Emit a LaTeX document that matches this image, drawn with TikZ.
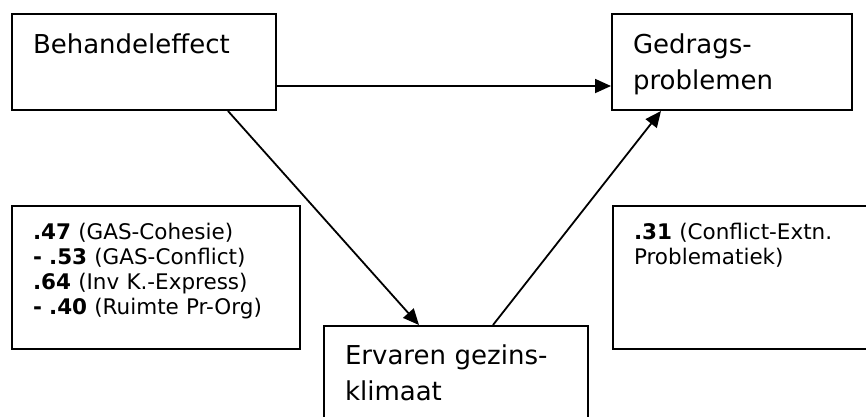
\documentclass[tikz,border=0pt]{standalone}
\usepackage{fontspec}
\setmainfont{DejaVu Sans}
\usetikzlibrary{arrows.meta}

\tikzset{
  kader/.style={draw, line width=2pt, anchor=north west, inner xsep=21pt, inner ysep=0pt, align=left},
  groot/.style={kader, font={\fontsize{26}{36}\selectfont}, text height=39pt, text depth=57pt},
  klein/.style={kader, font={\fontsize{21.5}{25}\selectfont}, text height=33pt, text depth=110pt},
  pijl/.style={-{Triangle[length=16pt,width=14pt]}, line width=1.8pt}
}

\begin{document}
\begin{tikzpicture}[x=1pt, y=-1pt]
\useasboundingbox (0,0) rectangle (866,416);

\node[groot, text width=222pt] at (11,13) (behandel) {Behandeleffect} ;
\node[groot, text width=198pt] at (611,13) (gedrag) {Gedrags-\\problemen} ;
\node[groot, text width=222pt, text height=38pt, text depth=70pt] at (323,325) (klimaat) {Ervaren gezins-\\klimaat} ;

\node[klein, text width=246pt] at (11,205) (scores) {\textbf{.47} (GAS-Cohesie)\\\textbf{- .53} (GAS-Conflict)\\\textbf{.64} (Inv K.-Express)\\\textbf{- .40} (Ruimte Pr-Org)} ;
\node[klein, text width=236pt] at (612,205) (extn) {\textbf{.31} (Conflict-Extn.\\Problematiek)} ;

\draw[pijl] ([yshift=-24pt]behandel.east) -- ([yshift=-24pt]gedrag.west) ;
\draw[pijl] ([xshift=84pt]behandel.south) -- ([xshift=-37pt]klimaat.north) ;
\draw[pijl] ([xshift=37pt]klimaat.north) -- ([xshift=-71pt]gedrag.south) ;
\end{tikzpicture}
\end{document}
